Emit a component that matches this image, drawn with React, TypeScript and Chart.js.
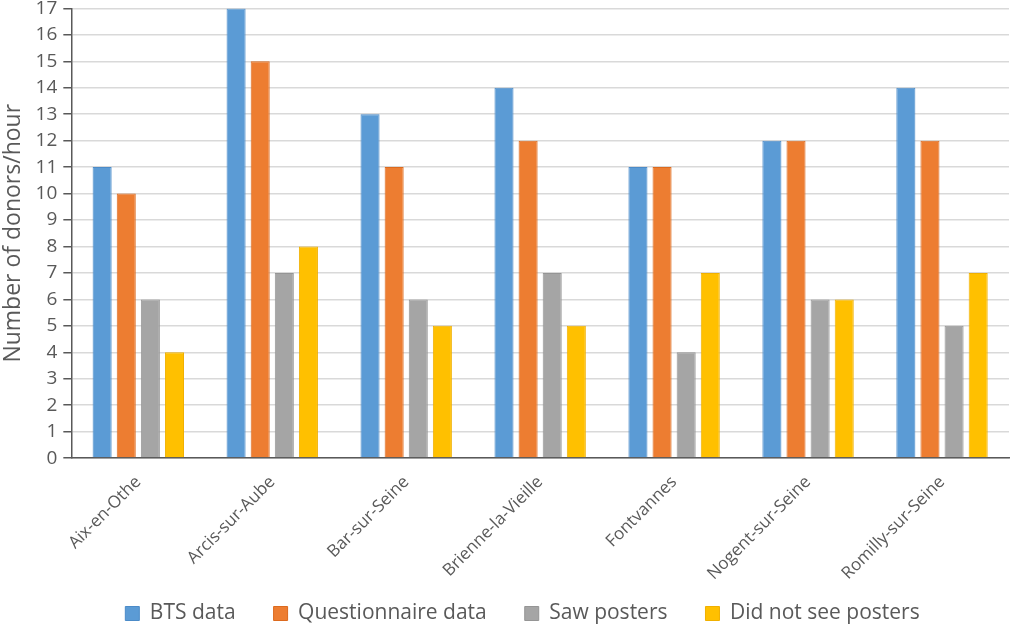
import { useEffect, useRef } from 'react'
import { Chart, ChartConfiguration, Plugin, registerables } from 'chart.js'

Chart.register(...registerables)

const towns = [
  'Aix-en-Othe',
  'Arcis-sur-Aube',
  'Bar-sur-Seine',
  'Brienne-la-Vieille',
  'Fontvannes',
  'Nogent-sur-Seine',
  'Romilly-sur-Seine',
]
const btsData = [11, 17, 13, 14, 11, 12, 14]
const questionnaireData = [10, 15, 11, 12, 11, 12, 12]
const sawPosters = [6, 7, 6, 7, 4, 6, 5]
const didNotSeePosters = [4, 8, 5, 5, 7, 6, 7]

const FONT = '"Open Sans", "Noto Sans", sans-serif'
const TEXT = '#595959'

// the legend row sits a little right of centre in the original
const nudgeLegend: Plugin<'bar'> = {
  id: 'nudgeLegend',
  afterLayout(chart) {
    const lg = chart.legend
    if (!lg) return
    lg.left += 18
    lg.right += 18
  },
}

export default function App() {
  const canvasRef = useRef<HTMLCanvasElement>(null)
  const chartRef = useRef<Chart | null>(null)

  useEffect(() => {
    if (!canvasRef.current) return
    const ctx = canvasRef.current.getContext('2d')
    if (!ctx) return
    chartRef.current?.destroy()

    const bar = (label: string, data: number[], fill: string, line: string) => ({
      label,
      data,
      backgroundColor: fill,
      borderColor: line,
      borderWidth: 1,
      categoryPercentage: 0.72,
      barPercentage: 0.79,
    })

    const config: ChartConfiguration<'bar'> = {
      type: 'bar',
      data: {
        labels: towns,
        datasets: [
          bar('BTS data', btsData, '#5B9BD5', '#4B8BC8'),
          bar('Questionnaire data', questionnaireData, '#ED7D31', '#DC6A1E'),
          bar('Saw posters', sawPosters, '#A5A5A5', '#959595'),
          bar('Did not see posters', didNotSeePosters, '#FFC000', '#F0B000'),
        ],
      },
      options: {
        animation: false,
        responsive: true,
        maintainAspectRatio: false,
        layout: { padding: { top: 0, right: 4, left: 0, bottom: -6 } },
        plugins: {
          tooltip: { enabled: false },
          legend: {
            position: 'bottom',
            labels: {
              color: TEXT,
              font: { family: FONT, size: 21 },
              boxWidth: 14,
              boxHeight: 14,
              padding: 3,
              // wider gaps between items without making the legend taller
              generateLabels: (chart) => {
                const items = Chart.defaults.plugins.legend.labels.generateLabels(chart)
                return items.map((it, i) => ({
                  ...it,
                  text: i < items.length - 1 ? it.text + '\u2003\u2002\u2009' : it.text,
                }))
              },
            },
          },
        },
        scales: {
          x: {
            grid: { display: false },
            border: { display: true, color: '#595959', width: 1.5 },
            ticks: {
              color: TEXT,
              font: { family: FONT, size: 17 },
              maxRotation: 45,
              minRotation: 45,
              padding: 6,
            },
            afterFit: (scale) => {
              scale.height += 10
            },
          },
          y: {
            min: 0,
            max: 17,
            ticks: {
              stepSize: 1,
              autoSkip: false,
              color: TEXT,
              font: { family: FONT, size: 19 },
              padding: 6,
            },
            grid: {
              color: '#D9D9D9',
              lineWidth: 1.5,
              tickColor: '#595959',
              tickLength: 8,
            },
            border: { color: '#595959', width: 1.5 },
            title: {
              display: true,
              text: 'Number of donors/hour',
              color: TEXT,
              font: { family: FONT, size: 23 },
              padding: { top: 0, bottom: 2 },
            },
          },
        },
      },
      plugins: [nudgeLegend],
    }

    chartRef.current = new Chart(ctx, config)
    return () => {
      chartRef.current?.destroy()
      chartRef.current = null
    }
  }, [])

  return (
    <div style={{ position: 'fixed', left: 0, top: -9, width: 1013, height: 637, background: '#fff' }}>
      <canvas ref={canvasRef} />
    </div>
  )
}
